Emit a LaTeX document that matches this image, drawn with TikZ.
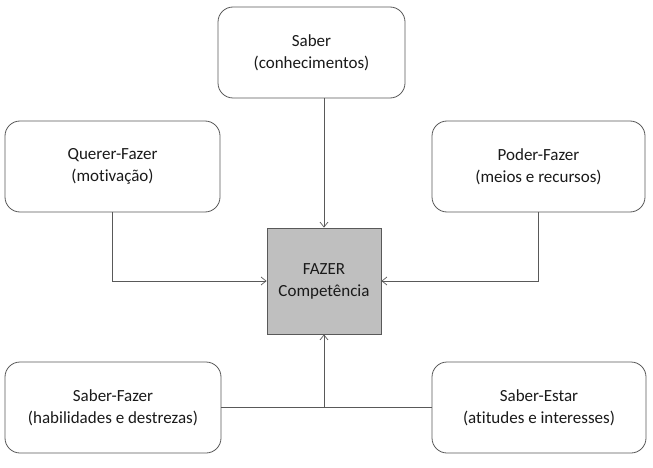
\documentclass[tikz,border=0pt]{standalone}
\usepackage{fontspec}
\setmainfont{Carlito}[Ligatures={NoCommon,NoRequired,NoContextual}]
\usetikzlibrary{arrows.meta}
\definecolor{lnc}{HTML}{595959}
\definecolor{txc}{HTML}{1A1A1A}
\definecolor{fillg}{HTML}{BFBFBF}
\begin{document}
\begin{tikzpicture}[x=1pt,y=-1pt,
  base/.style={draw=lnc,line width=0.8pt,text=txc,align=center,inner sep=0pt,font=\fontsize{17}{22}\selectfont},
  rbox/.style={base,rounded corners=15pt,fill=white},
  cbox/.style={base,fill=fillg,minimum width=114pt,minimum height=106pt},
  conn/.style={draw=lnc,line width=0.7pt},
  arr/.style={conn,-{Straight Barb[length=5pt,width=8pt]}}]
\useasboundingbox (0,0) rectangle (653,468);
\node[rbox,minimum width=187pt,minimum height=91pt] (saber) at (311.5,52.5) {Saber\\(conhecimentos)};
\node[rbox,minimum width=215pt,minimum height=91pt] (querer) at (112.5,166.5) {Querer-Fazer\\(motivação)};
\node[rbox,minimum width=213pt,minimum height=91pt] (poder) at (538.5,166.5) {Poder-Fazer\\(meios e recursos)};
\node[rbox,minimum width=216pt,minimum height=91pt] (sfazer) at (113,407.5) {Saber-Fazer\\(habilidades e destrezas)};
\node[rbox,minimum width=214pt,minimum height=91pt] (sestar) at (539,407.5) {Saber-Estar\\(atitudes e interesses)};
\node[cbox] (fazer) at (324,281) {FAZER\\Competência};
\draw[arr] (fazer.north |- saber.south) -- (fazer.north);
\draw[arr] (querer.south) |- (fazer.west);
\draw[arr] (poder.south) |- (fazer.east);
\draw[conn] (sfazer.east) -- (sestar.west);
\draw[arr] (fazer.south |- sfazer.east) -- (fazer.south);
\end{tikzpicture}
\end{document}
